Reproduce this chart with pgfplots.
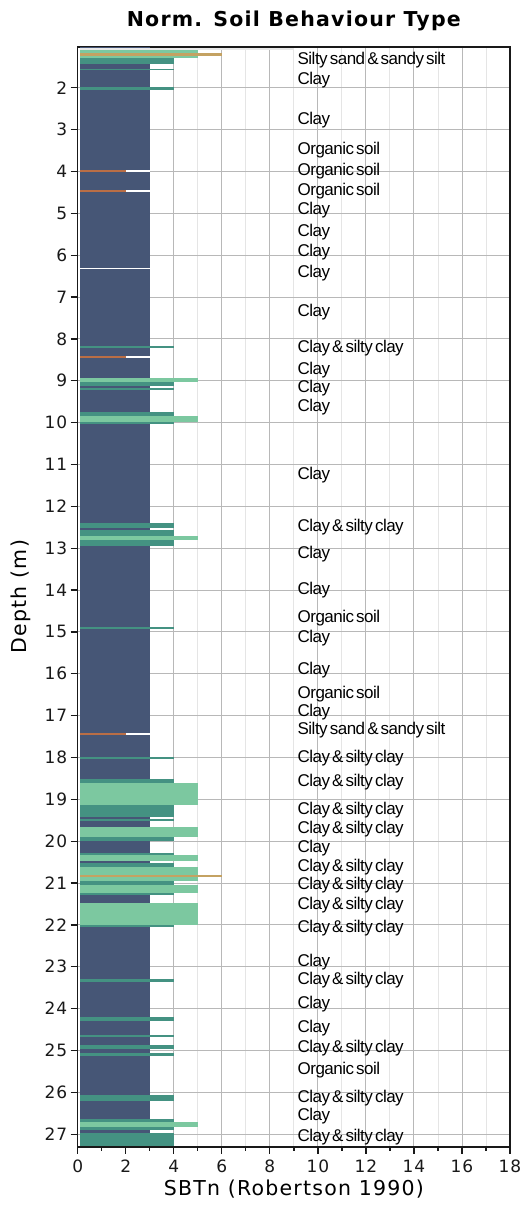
\documentclass[border=0pt]{standalone}
\usepackage{pgfplots}
\pgfplotsset{compat=1.18}
\usepackage{fontspec}
\setmainfont{DejaVu Sans}
\newfontfamily\labfont[LetterSpace=-3,WordSpace=0.5]{Liberation Sans}
\newfontfamily\tickfont[LetterSpace=6]{DejaVu Sans}
\newfontfamily\titlefont[LetterSpace=6]{DejaVu Sans}
\newfontfamily\axlabfont[LetterSpace=6]{DejaVu Sans}
\definecolor{sbblue}{RGB}{70,86,118}
\definecolor{sbteal}{RGB}{68,146,130}
\definecolor{sbgreen}{RGB}{124,200,160}
\definecolor{sbtan}{RGB}{196,162,98}
\definecolor{sborange}{RGB}{186,110,70}
\definecolor{sbgrey}{RGB}{232,232,232}
\tikzset{lbl/.style={anchor=west, inner sep=0pt, font=\labfont\fontsize{17}{18}\selectfont}}
% layer: colour, top depth, bottom depth, SBTn value
\newcommand{\lay}[4]{\addplot[fill=#1,draw=none,forget plot] coordinates {(0.1,#2) (#4,#2) (#4,#3) (0.1,#3)} --cycle;}
\newcommand{\lbl}[2]{\node[lbl] at (axis cs:9.15,#1) {#2};}
\begin{document}
\begin{tikzpicture}
\begin{axis}[
  scale only axis, width=432.3pt, height=1100pt,
  xmin=0, xmax=18, ymin=1.02, ymax=27.3, y dir=reverse,
  xtick={0,2,...,18}, minor x tick num=1,
  ytick={2,3,...,27},
  grid=both,
  major grid style={draw=black!28, line width=0.9pt},
  minor grid style={draw=black!10, line width=0.9pt},
  tick pos=left, tick align=outside,
  major tick length=7pt, minor tick length=4pt,
  tick style={draw=black!90, line width=1.3pt},
  axis line style={draw=black!90, line width=1.6pt},
  /pgf/number format/assume math mode=true,
  ticklabel style={font=\tickfont\fontsize{17}{20}\selectfont, text=black!90},
  xticklabel style={yshift=-3pt},
  xlabel={SBTn (Robertson 1990)},
  ylabel={Depth (m)},
  title={Norm. Soil Behaviour Type},
  title style={at={(axis description cs:0.5,1)}, anchor=base, yshift=14.7pt, font=\titlefont\bfseries\fontsize{20.5}{24}\selectfont},
  xlabel style={at={(axis description cs:0.5,-0.0439)}, anchor=base, font=\axlabfont\fontsize{20.5}{24}\selectfont},
  ylabel style={at={(axis description cs:-0.1173,0.5)}, anchor=base, font=\axlabfont\fontsize{20.5}{24}\selectfont},
]
% background clay column
\lay{sbblue}{1.02}{1.06}{3}
\lay{sbblue}{1.08}{27.26}{3}
\lay{sbgrey}{1.06}{1.10}{9}
\lay{sbgreen}{1.10}{1.17}{5}
\lay{sbtan}{1.17}{1.235}{6}
\lay{sbgreen}{1.235}{1.283}{5}
\lay{sbteal}{1.283}{1.434}{4}
\lay{sbteal}{1.546}{1.577}{4}
\lay{sbteal}{1.976}{2.055}{4}
\lay{white}{3.966}{4.014}{3}
\lay{sborange}{3.966}{4.014}{2}
\lay{white}{4.444}{4.492}{3}
\lay{sborange}{4.444}{4.492}{2}
\lay{white}{6.30}{6.33}{3}
\lay{sbteal}{8.17}{8.22}{4}
\lay{white}{8.41}{8.45}{3}
\lay{sborange}{8.41}{8.45}{2}
\lay{sbgreen}{8.935}{9.03}{5}
\lay{sbteal}{9.03}{9.12}{4}
\lay{sbteal}{9.167}{9.22}{4}
\lay{sbteal}{9.75}{9.84}{4}
\lay{sbgreen}{9.84}{9.98}{5}
\lay{sbteal}{9.98}{10.03}{4}
\lay{sbteal}{12.41}{12.52}{4}
\lay{sbteal}{12.57}{12.72}{4}
\lay{sbgreen}{12.72}{12.81}{5}
\lay{sbteal}{12.81}{12.95}{4}
\lay{sbteal}{14.876}{14.924}{4}
\lay{white}{17.41}{17.46}{3}
\lay{sborange}{17.41}{17.46}{2}
\lay{sbteal}{17.99}{18.04}{4}
\lay{sbteal}{18.51}{18.60}{4}
\lay{sbgreen}{18.60}{19.13}{5}
\lay{sbteal}{19.13}{19.42}{4}
\lay{sbteal}{19.48}{19.53}{4}
\lay{sbgreen}{19.67}{19.89}{5}
\lay{sbteal}{19.89}{19.99}{4}
\lay{sbteal}{20.29}{20.33}{4}
\lay{sbgreen}{20.33}{20.47}{5}
\lay{sbteal}{20.53}{20.62}{4}
\lay{sbgreen}{20.62}{20.95}{5}
\lay{sbtan}{20.815}{20.85}{6}
\lay{sbteal}{20.95}{21.05}{4}
\lay{sbgreen}{21.05}{21.23}{5}
\lay{sbteal}{21.23}{21.29}{4}
\lay{sbgreen}{21.47}{22.01}{5}
\lay{sbteal}{22.01}{22.06}{4}
\lay{sbteal}{23.29}{23.36}{4}
\lay{sbteal}{24.20}{24.29}{4}
\lay{sbteal}{24.63}{24.68}{4}
\lay{sbteal}{24.87}{24.96}{4}
\lay{sbteal}{25.06}{25.13}{4}
\lay{sbteal}{26.06}{26.21}{4}
\lay{sbteal}{26.64}{26.71}{4}
\lay{sbgreen}{26.71}{26.83}{5}
\lay{sbteal}{26.83}{26.90}{4}
\lay{sbteal}{26.97}{27.29}{4}
% soil type labels
\lbl{1.34}{Silty sand \& sandy silt}
\lbl{1.82}{Clay}
\lbl{2.77}{Clay}
\lbl{3.49}{Organic soil}
\lbl{3.99}{Organic soil}
\lbl{4.47}{Organic soil}
\lbl{4.92}{Clay}
\lbl{5.44}{Clay}
\lbl{5.92}{Clay}
\lbl{6.43}{Clay}
\lbl{7.35}{Clay}
\lbl{8.23}{Clay \& silty clay}
\lbl{8.74}{Clay}
\lbl{9.18}{Clay}
\lbl{9.62}{Clay}
\lbl{11.25}{Clay}
\lbl{12.49}{Clay \& silty clay}
\lbl{13.14}{Clay}
\lbl{14.00}{Clay}
\lbl{14.68}{Organic soil}
\lbl{15.15}{Clay}
\lbl{15.91}{Clay}
\lbl{16.48}{Organic soil}
\lbl{16.91}{Clay}
\lbl{17.34}{Silty sand \& sandy silt}
\lbl{18.02}{Clay \& silty clay}
\lbl{18.60}{Clay \& silty clay}
\lbl{19.27}{Clay \& silty clay}
\lbl{19.71}{Clay \& silty clay}
\lbl{20.17}{Clay}
\lbl{20.61}{Clay \& silty clay}
\lbl{21.05}{Clay \& silty clay}
\lbl{21.52}{Clay \& silty clay}
\lbl{22.08}{Clay \& silty clay}
\lbl{22.88}{Clay}
\lbl{23.32}{Clay \& silty clay}
\lbl{23.89}{Clay}
\lbl{24.47}{Clay}
\lbl{24.95}{Clay \& silty clay}
\lbl{25.47}{Organic soil}
\lbl{26.14}{Clay \& silty clay}
\lbl{26.58}{Clay}
\lbl{27.06}{Clay \& silty clay}
\end{axis}
\pgfresetboundingbox
\path[use as bounding box] ([xshift=-77.7pt,yshift=-63.3pt]current axis.south west) rectangle ([xshift=13pt,yshift=46.7pt]current axis.north east);
\end{tikzpicture}
\end{document}
